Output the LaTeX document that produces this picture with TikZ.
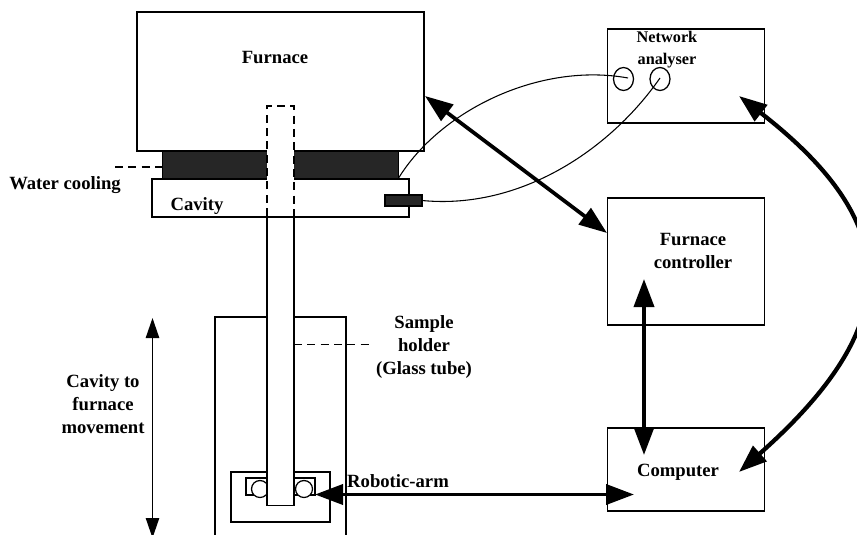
\documentclass[tikz,border=0pt]{standalone}
\usepackage{fontspec}
\setmainfont{Liberation Serif}
\usetikzlibrary{arrows.meta}
\tikzset{
  boxnode/.style 2 args={draw, line width=0.95pt, fill=white, inner sep=0pt, outer sep=0pt, minimum width=#1*0.75pt, minimum height=#2*0.75pt},
  darknode/.style 2 args={boxnode={#1}{#2}, fill=black!85},
  lbl/.style={font=\fontsize{14}{17.2}\selectfont\bfseries, align=center, inner sep=0pt},
  dashline/.style={line width=1.05pt, dash pattern=on 6pt off 4pt},
  wire/.style={line width=0.8pt},
  heavy/.style={line width=2.8pt, {Triangle[length=21pt,width=15pt]}-{Triangle[length=21pt,width=15pt]}},
  slim/.style={line width=1.1pt, {Triangle[length=15pt,width=10pt]}-{Triangle[length=15pt,width=10pt]}}
}

\begin{document}
\begin{tikzpicture}[x=0.75pt, y=-0.75pt]
\useasboundingbox (0,0) rectangle (857,535);
% upper left stack
\node[boxnode={287}{139}] (furnace) at (280.5,81.5) {};
\node[boxnode={257}{38}] (cavity) at (280.5,198) {};
\node[darknode={236}{28}] (cooling) at (280.5,165) {};
\node[darknode={37}{11}] (probe) at (403.5,200.5) {};
% instruments on the right
\node[boxnode={157}{94}] (analyser) at (686,76) {};
\node[boxnode={157}{127}] (controller) at (686,261.5) {};
\node[boxnode={157}{83}] (computer) at (686,469.5) {};
\draw[line width=0.95pt] (623.5,79) ellipse (10 and 11.5);
\draw[line width=0.95pt] (660,79) ellipse (10 and 11.5);
\coordinate (portA) at (628,78);
\coordinate (portB) at (660,78);
% carriage
\node[boxnode={131}{236}] (base) at (280.5,435) {};
\node[boxnode={99}{50}] (carriage) at (280.5,497) {};
\node[boxnode={69}{17}] (rail) at (280.5,486.5) {};
\draw[line width=0.95pt, fill=white] (260,489) circle (8.5);
\draw[line width=0.95pt, fill=white] (304,489) circle (8.5);
% sample tube
\fill[white] (267,106) rectangle (294,216);
\fill[white] (267,218) rectangle (294,505.5);
\draw[dashline] (267,216) -- (267,106) -- (294,106) -- (294,216);
\draw[line width=0.95pt] (267,217) -- (267,505.5) -- (294,505.5) -- (294,217);
% labels
\node[lbl] (furnacetext) at (275,58) {Furnace};
\node[lbl] (cavitytext) at (197,206) {Cavity};
\node[lbl] (watertext) at (65,185) {Water cooling};
\node[lbl] (sampletext) at (424,347) {Sample\\holder\\(Glass tube)};
\node[lbl] (movetext) at (103,404) {Cavity to\\furnace\\movement};
\node[lbl] (armtext) at (398,481) {Robotic-arm};
\node[lbl] (controllertext) at (693,251) {Furnace\\controller};
\node[lbl] (computertext) at (678,472) {Computer};
\node[lbl, font=\fontsize{12.2}{16.5}\selectfont\bfseries] (analysertext) at (667,50) {Network\\analyser};
% dashed leaders
\coordinate (waterend) at (115,167);
\coordinate (sampleend) at (373,344.5);
\draw[dashline] (waterend) -- (162,167);
\draw[dashline] (294,344.5) -- (sampleend);
% thin wires
\draw[wire] (398,179) .. controls (440,110) and (540,62) .. (portA);
\draw[wire] (probe.east) .. controls (520,210) and (610,150) .. (portB);
% heavy arrows
\coordinate (furnaceport) at (425,96);
\coordinate (controllerport) at (607,233);
\coordinate (ctrlup) at (644,279);
\coordinate (compup) at (644,455);
\coordinate (armend) at (315,494.5);
\coordinate (compleft) at (634,494.5);
\coordinate (netright) at (739,96);
\coordinate (compright) at (739,472);
\draw[heavy] (furnaceport) -- (controllerport);
\draw[heavy] (ctrlup) -- (compup);
\draw[heavy] (armend) -- (compleft);
\draw[heavy, line width=3.2pt] (netright) .. controls (905,225) and (905,325) .. (compright);
% travel arrow
\coordinate (movetop) at (152.5,318);
\coordinate (movebot) at (152.5,538);
\draw[slim] (movetop) -- (movebot);
\end{tikzpicture}
\end{document}
